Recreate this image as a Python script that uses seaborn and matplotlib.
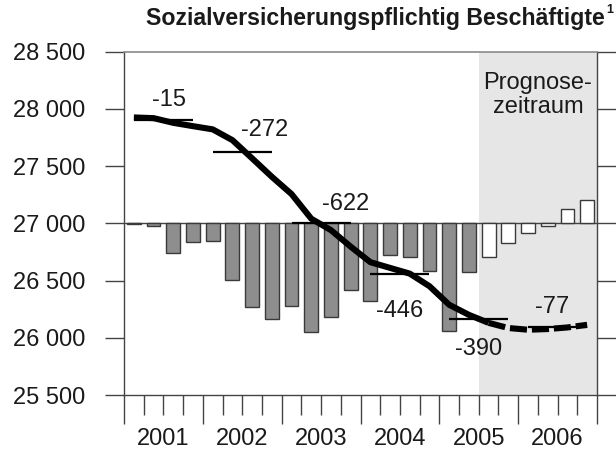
import numpy as np
import pandas as pd
import matplotlib
matplotlib.use("Agg")
import matplotlib.pyplot as plt
import seaborn as sns

# ---------------- data ----------------
years = ["2001", "2002", "2003", "2004", "2005", "2006"]
quarters = [f"{y} Q{q}" for y in years for q in range(1, 5)]
# quarterly bars (deviation drawn from the 27 000 baseline, axis units)
bar_values = [-10, -25, -256, -168, -151, -492, -730, -832, -722, -954, -818, -585,
              -681, -279, -297, -419, -945, -430, -299, -175, -85, -23, 128, 200]
status = ["Ist"] * 18 + ["Prognose"] * 6
# quarterly level (thousands)
level = [27924, 27918, 27877, 27848, 27820, 27726, 27567, 27406, 27255, 27040, 26940, 26796,
         26660, 26610, 26560, 26450, 26288, 26200, 26130, 26085, 26070, 26076, 26090, 26113]
# annual averages and annual change labels
annual_avg = [27898, 27626, 27004, 26558, 26168, 26091]
annual_change = ["-15", "-272", "-622", "-446", "-390", "-77"]
yticks = [25500, 26000, 26500, 27000, 27500, 28000, 28500]
ytick_labels = ["25 500", "26 000", "26 500", "27 000", "27 500", "28 000", "28 500"]
title = "Sozialversicherungspflichtig Beschäftigte"
forecast_label = "Prognose-\nzeitraum"

# ---------------- style ----------------
sns.set_theme(style="ticks")
plt.rcParams["font.family"] = ["Liberation Sans", "DejaVu Sans"]

fig = plt.figure(figsize=(6.16, 4.5), dpi=100)
ax = fig.add_axes([124 / 616, 1 - 395 / 450, (597 - 124) / 616, (395 - 51.5) / 450])

dark = "#444444"
px = 72 / 100  # points per pixel

# forecast shading
ax.axvspan(17.5, 23.5, color="#e6e6e6", zorder=0, lw=0)
# baseline
ax.axhline(27000, color=dark, lw=1.0, zorder=1)

df = pd.DataFrame({"quarter": quarters, "change": bar_values, "status": status})
sns.barplot(data=df, x="quarter", y="change", hue="status",
            palette={"Ist": "#8e8e8e", "Prognose": "white"},
            dodge=False, width=0.7, edgecolor="#3a3a3a", linewidth=1.0,
            bottom=27000, legend=False, errorbar=None, ax=ax, zorder=2)

pos = np.arange(len(quarters))
# level line: observed solid, forecast dashed
sns.lineplot(x=pos[:19], y=level[:19], color="black", linewidth=4.4, ax=ax,
             zorder=4, solid_capstyle="butt")
ax.plot(pos[18:], level[18:], color="black", linewidth=4.4, zorder=4,
        linestyle=(0, (2.8, 0.8)), dash_capstyle="butt")

# annual averages
label_dx = [6, 22, 25, 0, 0, -5]
label_dy = [20, 22, 19, -37, -30, 20]
for i, (avg, lab) in enumerate(zip(annual_avg, annual_change)):
    ax.hlines(avg, 4 * i, 4 * i + 3, color="black", lw=1.6, zorder=3)
    ax.annotate(lab, (4 * i + 1.5, avg), xytext=(label_dx[i], label_dy[i]),
                textcoords="offset pixels", ha="center", va="center",
                fontsize=17, color="#1a1a1a", zorder=5)

ax.text(20.5, 0.873, forecast_label, transform=ax.get_xaxis_transform(),
        ha="center", va="center", multialignment="center", fontsize=17,
        color="#1a1a1a", linespacing=1.1, zorder=5)

# axes
ax.set_xlim(-0.5, 23.5)
ax.set_ylim(25500, 28500)
ax.set_xlabel("")
ax.set_ylabel("")
ax.set_yticks(yticks)
ax.set_yticklabels(ytick_labels, fontsize=17, color="#1a1a1a")
ax.set_xticks(np.arange(-0.5, 24, 4))
ax.set_xticklabels([])
ax.set_xticks(np.arange(-0.5, 24, 1), minor=True)
ax.tick_params(axis="y", which="both", left=True, right=True, direction="out",
               length=19 * px, width=1.0, color=dark, pad=20 * px)
ax.tick_params(axis="x", which="major", direction="out", length=29 * px,
               width=1.0, color=dark)
ax.tick_params(axis="x", which="minor", direction="out", length=20 * px,
               width=1.0, color=dark)
for y_i, yl in enumerate(years):
    ax.text(4 * y_i + 1.5, -44 / 343.5, yl, transform=ax.get_xaxis_transform(),
            ha="center", va="center", fontsize=17, color="#1a1a1a")

for side in ["left", "right", "bottom"]:
    ax.spines[side].set_color(dark)
    ax.spines[side].set_linewidth(1.0)
ax.spines["top"].set_color("#8a8a8a")
ax.spines["top"].set_linewidth(1.2)
ax.grid(False)

fig.text(605 / 616, 1 - 19 / 450, title, ha="right", va="center",
         fontsize=16.7, fontweight="bold", color="#1a1a1a")
fig.text(606 / 616, 1 - 10 / 450, "1", ha="left", va="center",
         fontsize=9, fontweight="bold", color="#1a1a1a")

fig.savefig("out.png", dpi=100)
